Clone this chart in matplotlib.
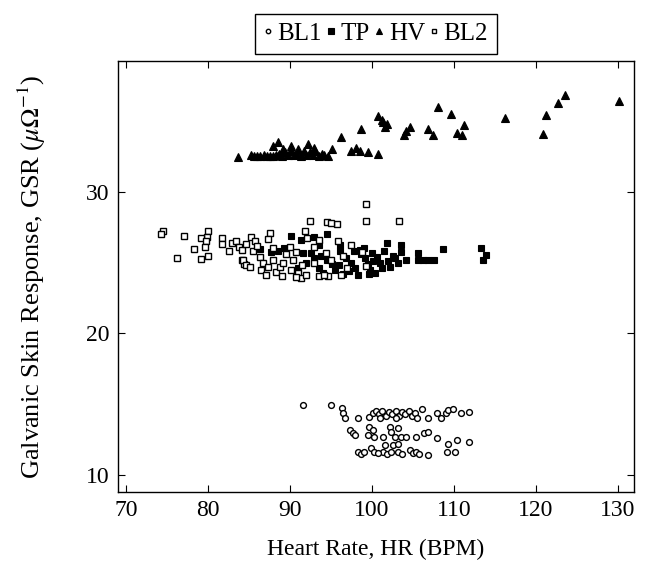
import matplotlib
matplotlib.use("Agg")
import matplotlib.pyplot as plt

plt.rcParams['font.family'] = ['Liberation Serif', 'DejaVu Serif']
plt.rcParams['mathtext.fontset'] = 'stix'

# ---- data ----
bl1_x = [91.6, 95.07, 96.4, 96.5, 96.7, 98.3, 99.7, 100.1, 100.5, 100.9, 101.3, 101.7, 102.1, 102.5,
         102.9, 103.3, 103.7, 104.1, 104.5, 104.9, 105.3, 105.5, 106.1, 106.85, 108.0, 108.5, 109.1,
         109.3, 109.9, 110.9, 111.9, 101.0, 103.0, 97.3, 97.7, 98.0, 99.7, 100.1, 99.5, 100.3, 101.4,
         102.2, 102.4, 103.2, 102.8, 103.6, 104.2, 105.4, 106.4, 106.85, 108.0, 109.3, 110.4, 111.8,
         98.3, 98.7, 99.1, 99.9, 100.3, 101.4, 101.6, 101.9, 102.6, 103.2, 103.2, 103.7, 104.6, 105.0,
         105.4, 105.8, 106.8, 109.2, 110.2, 100.7, 102.3]
bl1_y = [14.95, 14.95, 14.76, 14.36, 14.0, 14.0, 14.12, 14.36, 14.5, 14.3, 14.5, 14.2, 14.45, 14.3,
         14.5, 14.2, 14.45, 14.3, 14.5, 14.2, 14.4, 14.05, 14.66, 14.0, 14.36, 14.0, 14.36,
         14.59, 14.66, 14.36, 14.47, 14.05, 14.0, 13.18, 12.95, 12.8, 13.41, 13.18, 12.83, 12.71, 12.71,
         13.41, 13.06, 13.3, 12.71, 12.71, 12.71, 12.71, 12.95, 13.06, 12.59, 12.17, 12.47, 12.31,
         11.6, 11.5, 11.65, 11.88, 11.6, 11.65, 12.12, 11.5, 12.12, 12.17, 11.6, 11.5, 11.77, 11.55,
         11.6, 11.5, 11.41, 11.6, 11.65, 11.55, 11.6]

tp_x = [90.2, 94.5, 91.4, 92.9, 93.6, 87.75, 86.3, 88.5, 89.3, 91.6, 92.6, 93.0, 93.8, 94.5, 95.2,
        93.5, 94.0, 95.5, 96.1, 96.1, 96.8, 97.5, 98.0, 97.2, 96.5, 98.3, 98.7, 99.2, 99.5, 99.8,
        100.2, 100.6, 101.0, 101.3, 100.4, 101.9, 103.6, 103.6, 102.6, 102.8, 102.2, 103.2, 104.2,
        105.6, 105.6, 106.2, 106.9, 107.6, 108.7, 113.35, 113.96, 113.55, 99.0, 97.8, 100.0, 92.0,
        91.0, 96.0, 98.5, 101.5, 102.0, 99.6]
tp_y = [26.9, 27.03, 26.6, 26.84, 26.25, 25.78, 25.95, 25.8, 26.0, 25.67, 25.67, 25.3, 25.5, 25.2, 24.9,
        24.6, 24.3, 24.5, 26.25, 25.8, 25.3, 25.0, 24.6, 24.4, 24.2, 24.13, 25.6, 25.3, 24.9, 24.5,
        25.1, 25.4, 25.0, 24.6, 24.3, 26.37, 26.25, 25.78, 25.5, 25.3, 24.7, 25.0, 25.2,
        25.67, 25.2, 25.2, 25.2, 25.2, 25.95, 26.0, 25.55, 25.2, 26.0, 25.8, 25.7, 25.0,
        24.6, 24.8, 25.9, 25.8, 25.1, 24.2]

hv_x = [83.7, 85.2, 85.6, 86.0, 86.4, 86.8, 87.2, 87.6, 88.0, 88.3, 88.7, 89.0, 89.4, 89.8, 90.1,
        90.5, 90.9, 91.3, 91.7, 92.0, 92.4, 92.8, 93.1, 93.5, 93.9, 94.2, 94.6, 87.9, 88.6, 90.2,
        92.2, 91.0, 93.0, 89.2, 95.1, 96.3, 97.5, 98.1, 98.5, 99.5, 98.7, 100.8, 100.75, 101.2,
        101.4, 101.6, 101.9, 104.6, 104.2, 103.9, 108.1, 109.7, 106.8, 107.5, 111.2, 110.4, 111.0,
        116.3, 120.9, 121.3, 122.7, 123.6, 130.2]
hv_y = [32.45, 32.6, 32.5, 32.55, 32.5, 32.6, 32.5, 32.55, 32.5, 32.6, 32.7, 32.5, 32.8, 32.6, 32.9,
        32.6, 32.7, 32.5, 32.9, 32.6, 32.8, 32.6, 32.9, 32.5, 32.7, 32.6, 32.5, 33.2, 33.5, 33.2,
        33.4, 33.0, 33.1, 33.0, 33.0, 33.9, 32.9, 33.1, 32.85, 32.8, 34.4, 32.7, 35.37, 35.1,
        34.9, 34.6, 34.8, 34.6, 34.26, 34.0, 36.0, 35.5, 34.4, 34.0, 34.7, 34.15, 34.0,
        35.2, 34.1, 35.4, 36.3, 36.8, 36.4]

bl2_x = [74.55, 74.27, 77.1, 80.0, 79.95, 79.1, 79.8, 79.6, 78.3, 76.2, 79.1, 80.0, 81.7, 81.7, 82.55,
         82.95, 83.4, 83.8, 84.1, 84.1, 84.4, 85.2, 87.55, 87.3, 92.5, 94.5, 95.75, 95.0, 91.8, 92.1,
         93.6, 92.9, 95.9, 97.5, 84.7, 85.5, 86.4, 86.7, 87.95, 86.5, 87.3, 87.05, 88.3, 88.8, 89.0,
         84.3, 84.7, 85.1, 90.0, 90.8, 90.4, 91.0, 91.3, 90.7, 92.0, 93.6, 94.6, 94.2, 94.4, 96.3,
         99.3, 99.25, 103.3, 98.8, 99.3, 89.5, 88.0, 91.5, 93.0, 95.0, 96.5, 97.0, 85.8, 86.0, 89.2, 90.2]
bl2_y = [27.26, 27.03, 26.9, 27.24, 26.84, 26.77, 26.5, 26.1, 25.97, 25.33, 25.24, 25.5, 26.77, 26.3, 25.85,
         26.4, 26.5, 26.1, 25.9, 25.2, 24.9, 26.84, 27.12, 26.7, 27.95, 27.86, 27.7, 27.8, 27.26, 26.73,
         26.6, 26.1, 26.56, 26.25, 26.3, 25.8, 25.4, 25.0, 25.15, 24.5, 24.67, 24.13, 24.37, 24.67, 24.06,
         25.2, 24.8, 24.67, 26.13, 25.78, 25.2, 24.25, 23.94, 24.0, 24.13, 24.06, 24.05, 24.1, 25.67, 24.13,
         29.15, 27.97, 27.97, 25.74, 24.77, 25.6, 26.0, 24.8, 25.0, 25.2, 25.5, 24.6, 26.5, 26.2, 25.0, 24.5]

labels = ['BL1', 'TP', 'HV', 'BL2']
x_ticks = [70, 80, 90, 100, 110, 120, 130]
y_ticks = [10, 20, 30]

fig = plt.figure(figsize=(6.47, 5.64), dpi=100)
ax = fig.add_axes([0.182, 0.128, 0.798, 0.763])

ax.plot(bl1_x, bl1_y, linestyle='none', marker='o', ms=4.2, mfc='white', mec='black', mew=1.0, label=labels[0])
ax.plot(tp_x, tp_y, linestyle='none', marker='s', ms=5.0, mfc='black', mec='black', mew=0.8, label=labels[1])
ax.plot(hv_x, hv_y, linestyle='none', marker='^', ms=6.3, mfc='black', mec='black', mew=0.8, label=labels[2])
ax.plot(bl2_x, bl2_y, linestyle='none', marker='s', ms=4.2, mfc='white', mec='black', mew=1.0, label=labels[3])

ax.set_xlim(69, 132)
ax.set_ylim(8.82, 39.2)
ax.set_xticks(x_ticks)
ax.set_yticks(y_ticks)
ax.tick_params(direction='in', length=5, width=0.8, top=True, right=True, labelsize=17, pad=6)
for s in ax.spines.values():
    s.set_linewidth(1.0)

ax.set_xlabel('Heart Rate, HR (BPM)', fontsize=17, labelpad=13)
ax.set_ylabel(r'Galvanic Skin Response, GSR ($\mu\Omega^{-1}$)', fontsize=19, labelpad=27)

leg = ax.legend(loc='lower center', bbox_to_anchor=(0.5, 1.0), borderaxespad=0.3, ncol=4, fontsize=18,
                frameon=True, fancybox=False, edgecolor='black', framealpha=1,
                handlelength=0.35, handletextpad=0.2, columnspacing=0.2, borderpad=0.35,
                markerscale=0.75)
leg.get_frame().set_linewidth(1.0)

fig.savefig('out.png', dpi=100)
